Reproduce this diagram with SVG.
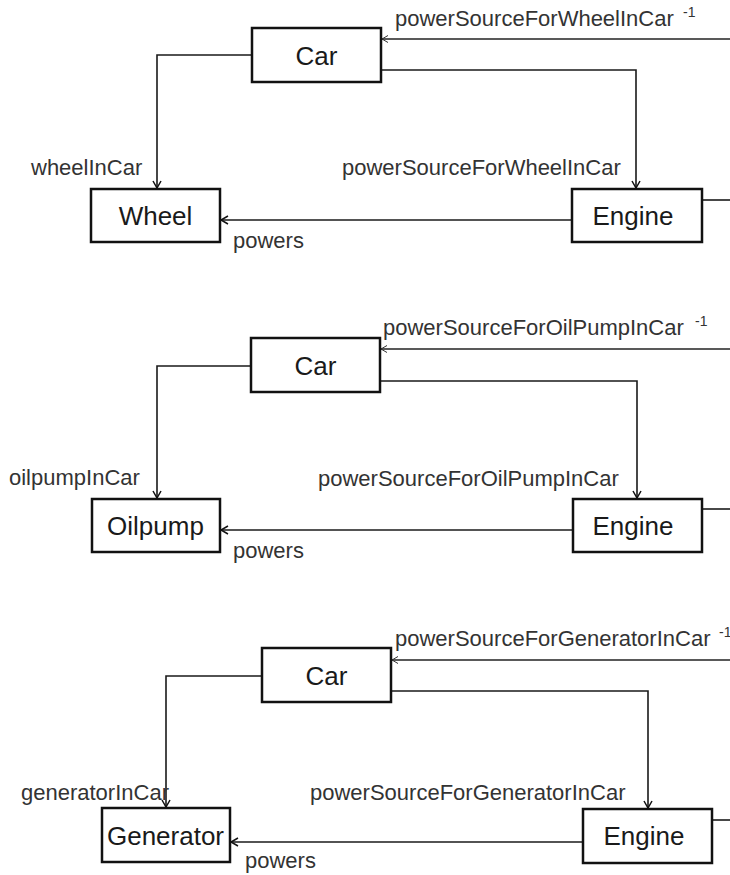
<svg xmlns="http://www.w3.org/2000/svg" width="730" height="875" viewBox="0 0 730 875">
<style>
.box{fill:#fff;stroke:#111;stroke-width:2.5}
.nt{font-family:"Liberation Sans",Arial,sans-serif;font-size:26px;fill:#1a1a1a;text-anchor:middle}
.lb{font-family:"Liberation Sans",Arial,sans-serif;font-size:22px;fill:#333}
.sup{font-family:"Liberation Sans",Arial,sans-serif;font-size:14px;fill:#333}
.cn{fill:none;stroke:#1a1a1a;stroke-width:1.6}
.cn2{fill:none;stroke:#222;stroke-width:1.4}
</style>
<defs>
<marker id="arr" markerWidth="10" markerHeight="10" viewBox="-8 -5 10 10" refX="0" refY="0" orient="auto" markerUnits="userSpaceOnUse"><path d="M-7,-4 L0,0 L-7,4" fill="none" stroke="#111" stroke-width="1.5"/></marker>
<marker id="arr2" markerWidth="10" markerHeight="10" viewBox="-8 -5 10 10" refX="0" refY="0" orient="auto" markerUnits="userSpaceOnUse"><path d="M-6,-3.5 L0,0 L-6,3.5" fill="none" stroke="#333" stroke-width="1"/></marker>
</defs>
<rect width="730" height="875" fill="#fff"/>
<g id="connectors">
<path class="cn" d="M252,55 H157 V188" marker-end="url(#arr)"/>
<path class="cn" d="M381,70 H636 V188" marker-end="url(#arr)"/>
<path class="cn2" d="M730,39 H382" marker-end="url(#arr2)"/>
<path class="cn" d="M702,200 H730"/>
<path class="cn" d="M572,220 H221" marker-end="url(#arr)"/>
<path class="cn" d="M251,366 H157 V498" marker-end="url(#arr)"/>
<path class="cn" d="M380,381 H637 V498" marker-end="url(#arr)"/>
<path class="cn2" d="M730,349 H381" marker-end="url(#arr2)"/>
<path class="cn" d="M702,509 H730"/>
<path class="cn" d="M573,530 H221" marker-end="url(#arr)"/>
<path class="cn" d="M262,676 H166 V807" marker-end="url(#arr)"/>
<path class="cn" d="M391,691 H648 V808" marker-end="url(#arr)"/>
<path class="cn2" d="M730,660 H392" marker-end="url(#arr2)"/>
<path class="cn" d="M712,820 H730"/>
<path class="cn" d="M583,842 H231" marker-end="url(#arr)"/>
</g>
<g id="labels">
<text class="lb" x="395" y="26">powerSourceForWheelInCar</text><text class="sup" x="683" y="17">-1</text>
<text class="lb" x="31" y="175">wheelInCar</text>
<text class="lb" x="342" y="175">powerSourceForWheelInCar</text>
<text class="lb" x="233" y="248">powers</text>
<text class="lb" x="383" y="335">powerSourceForOilPumpInCar</text><text class="sup" x="695" y="326">-1</text>
<text class="lb" x="9" y="485">oilpumpInCar</text>
<text class="lb" x="318" y="486">powerSourceForOilPumpInCar</text>
<text class="lb" x="233" y="558">powers</text>
<text class="lb" x="395" y="646">powerSourceForGeneratorInCar</text><text class="sup" x="719" y="637">-1</text>
<text class="lb" x="21" y="800">generatorInCar</text>
<text class="lb" x="310" y="800">powerSourceForGeneratorInCar</text>
<text class="lb" x="245" y="868">powers</text>
</g>
<g id="car1"><rect class="box" x="252" y="28" width="129" height="54"/><text class="nt" x="316.5" y="65">Car</text></g>
<g id="wheel"><rect class="box" x="91" y="189" width="129" height="53"/><text class="nt" x="155.5" y="225">Wheel</text></g>
<g id="engine1"><rect class="box" x="572" y="189" width="130" height="53"/><text class="nt" x="633" y="225">Engine</text></g>
<g id="car2"><rect class="box" x="251" y="338" width="129" height="54"/><text class="nt" x="315.5" y="375">Car</text></g>
<g id="oilpump"><rect class="box" x="92" y="499" width="128" height="53"/><text class="nt" x="155.5" y="535">Oilpump</text></g>
<g id="engine2"><rect class="box" x="573" y="499" width="129" height="53"/><text class="nt" x="633" y="535">Engine</text></g>
<g id="car3"><rect class="box" x="262" y="648" width="129" height="54"/><text class="nt" x="326.5" y="685">Car</text></g>
<g id="generator"><rect class="box" x="102" y="808" width="128" height="54"/><text class="nt" x="165.5" y="845">Generator</text></g>
<g id="engine3"><rect class="box" x="583" y="809" width="129" height="54"/><text class="nt" x="644" y="845">Engine</text></g>
</svg>
